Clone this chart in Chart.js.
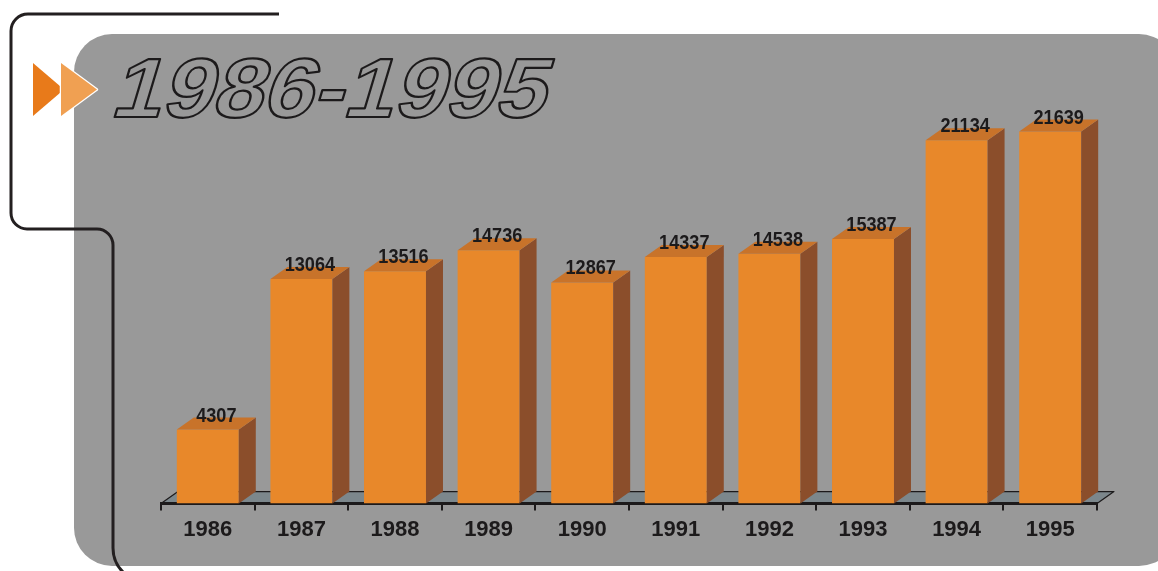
<!DOCTYPE html>
<html>
<head>
<meta charset="utf-8">
<script src="https://cdn.jsdelivr.net/npm/chart.js@4.4.0/dist/chart.umd.min.js"></script>
<style>
  html, body { margin: 0; padding: 0; background: #ffffff; }
  #wrap { width: 1158px; height: 571px; position: relative; }
</style>
</head>
<body>
<div id="wrap"><canvas id="yearsChart" width="1158" height="571"></canvas></div>
<script>
const years = ['1986', '1987', '1988', '1989', '1990', '1991', '1992', '1993', '1994', '1995'];
const visitors = [4307, 13064, 13516, 14736, 12867, 14337, 14538, 15387, 21134, 21639];
const titleText = '1986-1995';
const yMax = 24000;

const FRONT = '#e8882a';
const SIDE = '#8b4e2b';
const TOP = '#c8732a';
const FLOOR = '#7c878c';
const PANEL = '#999999';
const INK = '#1c1a1b';
const DEPTH_X = 17;
const DEPTH_Y = 12;

// panel, frame line, arrows, title and the floor under the bars
const backdrop = {
    id: 'backdrop',
    beforeDraw(chart) {
        const ctx = chart.ctx;
        const area = chart.chartArea;
        ctx.save();

        ctx.fillStyle = PANEL;
        ctx.beginPath();
        ctx.roundRect(74, 34, 1103, 532, 38);
        ctx.fill();

        // frame line
        ctx.strokeStyle = '#231f20';
        ctx.lineWidth = 3;
        ctx.lineJoin = 'round';
        ctx.beginPath();
        ctx.moveTo(279, 14);
        ctx.arcTo(11, 14, 11, 40, 17);
        ctx.arcTo(11, 229, 40, 229, 16);
        ctx.arcTo(113, 229, 113, 260, 16);
        ctx.lineTo(113, 548);
        ctx.quadraticCurveTo(113, 563, 124, 573);
        ctx.stroke();

        // arrows
        ctx.fillStyle = '#e87a1a';
        ctx.beginPath();
        ctx.moveTo(33, 63); ctx.lineTo(64, 89.5); ctx.lineTo(33, 116); ctx.closePath();
        ctx.fill();
        ctx.fillStyle = '#f0a052';
        ctx.strokeStyle = '#ffffff';
        ctx.lineWidth = 2.5;
        ctx.beginPath();
        ctx.moveTo(61, 63); ctx.lineTo(97, 89.5); ctx.lineTo(61, 116); ctx.closePath();
        ctx.stroke();
        ctx.fill();

        // outlined title
        ctx.save();
        ctx.translate(109, 117);
        ctx.transform(1.08, 0, -0.3, 1, 0, 0);
        ctx.font = 'bold 84px "Liberation Sans", Arial, sans-serif';
        ctx.textBaseline = 'alphabetic';
        ctx.lineWidth = 2.2;
        ctx.lineJoin = 'round';
        ctx.strokeStyle = INK;
        ctx.strokeText(titleText, 0, 0);
        ctx.restore();

        // floor
        const L = area.left, R = area.right, B = area.bottom;
        ctx.fillStyle = FLOOR;
        ctx.strokeStyle = INK;
        ctx.lineWidth = 1.2;
        ctx.beginPath();
        ctx.moveTo(L, B);
        ctx.lineTo(L + DEPTH_X, B - DEPTH_Y);
        ctx.lineTo(R + DEPTH_X, B - DEPTH_Y);
        ctx.lineTo(R, B);
        ctx.closePath();
        ctx.fill();
        ctx.stroke();

        ctx.restore();
    }
};

// side + top faces and value labels, taken from the bar elements
const bars3d = {
    id: 'bars3d',
    afterDatasetsDraw(chart) {
        const ctx = chart.ctx;
        const meta = chart.getDatasetMeta(0);
        ctx.save();
        meta.data.forEach((bar, i) => {
            const p = bar.getProps(['x', 'y', 'width', 'base'], true);
            const left = p.x - p.width / 2;
            const right = p.x + p.width / 2;

            ctx.fillStyle = SIDE;
            ctx.beginPath();
            ctx.moveTo(right, p.y);
            ctx.lineTo(right + DEPTH_X, p.y - DEPTH_Y);
            ctx.lineTo(right + DEPTH_X, p.base - DEPTH_Y);
            ctx.lineTo(right, p.base);
            ctx.closePath();
            ctx.fill();

            ctx.fillStyle = TOP;
            ctx.beginPath();
            ctx.moveTo(left, p.y);
            ctx.lineTo(right, p.y);
            ctx.lineTo(right + DEPTH_X, p.y - DEPTH_Y);
            ctx.lineTo(left + DEPTH_X, p.y - DEPTH_Y);
            ctx.closePath();
            ctx.fill();

            ctx.save();
            ctx.translate(p.x + DEPTH_X / 2, p.y - DEPTH_Y + 4);
            ctx.scale(0.98, 1.1);
            ctx.font = 'bold 18.5px "Liberation Sans", Arial, sans-serif';
            ctx.fillStyle = INK;
            ctx.textAlign = 'center';
            ctx.textBaseline = 'alphabetic';
            ctx.fillText(String(visitors[i]), 0, 0);
            ctx.restore();
        });
        ctx.restore();
    }
};

const chart = new Chart(document.getElementById('yearsChart'), {
    type: 'bar',
    data: {
        labels: years,
        datasets: [{
            data: visitors,
            backgroundColor: FRONT,
            borderWidth: 0,
            barPercentage: 0.662,
            categoryPercentage: 1
        }]
    },
    options: {
        responsive: false,
        animation: false,
        events: [],
        layout: {
            padding: { left: 161, right: 61, top: 91, bottom: 22 }
        },
        plugins: {
            legend: { display: false },
            title: { display: false },
            tooltip: { enabled: false }
        },
        scales: {
            x: {
                offset: true,
                grid: {
                    offset: true,
                    drawOnChartArea: false,
                    drawTicks: true,
                    tickLength: 7,
                    color: INK,
                    lineWidth: 2
                },
                border: { display: true, color: INK, width: 3 },
                ticks: {
                    padding: 6,
                    color: INK,
                    font: { family: '"Liberation Sans", Arial, sans-serif', size: 22, weight: 'bold' }
                }
            },
            y: {
                display: false,
                min: 0,
                max: yMax
            }
        }
    },
    plugins: [backdrop, bars3d]
});
</script>
</body>
</html>
